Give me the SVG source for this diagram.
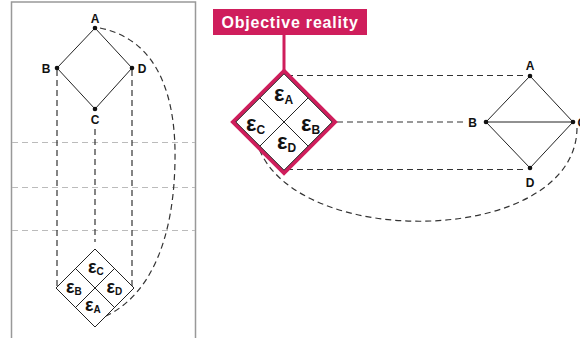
<svg xmlns="http://www.w3.org/2000/svg" width="580" height="338" viewBox="0 0 580 338">
<style>
.lbl{font-family:"Liberation Sans",Arial,sans-serif;font-weight:bold;font-size:12px;fill:#111;text-anchor:middle}
.eps{font-family:"Liberation Sans",Arial,sans-serif;font-weight:bold;fill:#111}
.edge{stroke:#222;stroke-width:1;fill:none}
.dash{stroke:#333;stroke-width:1.2;fill:none;stroke-dasharray:6 4}
.grid{stroke:#bbb;stroke-width:1;fill:none;stroke-dasharray:6 4}
.dot{fill:#111}
</style>
<rect width="580" height="338" fill="#fff"/>
<!-- left panel -->
<g id="panel">
<path d="M11.5 338 V2 H195.5 V338" fill="none" stroke="#999" stroke-width="1.5"/>
<line class="grid" x1="12" y1="142.5" x2="195" y2="142.5"/>
<line class="grid" x1="12" y1="187.5" x2="195" y2="187.5"/>
<line class="grid" x1="12" y1="230.5" x2="195" y2="230.5"/>
</g>
<g id="connectors">
<line class="edge" x1="95" y1="28" x2="57" y2="68"/>
<line class="edge" x1="95" y1="28" x2="132" y2="68"/>
<line class="edge" x1="57" y1="68" x2="95" y2="109"/>
<line class="edge" x1="132" y1="68" x2="95" y2="109"/>
<line class="dash" x1="57" y1="70" x2="57" y2="286"/>
<line class="dash" x1="95" y1="129" x2="95" y2="242"/>
<line class="dash" x1="132" y1="70" x2="132" y2="286"/>
<path class="dash" d="M100 28 C160 40 176 100 175 160 C174 240 150 295 106 316"/>
<line class="edge" x1="530" y1="76" x2="486" y2="122"/>
<line class="edge" x1="530" y1="76" x2="573" y2="122"/>
<line class="edge" x1="486" y1="122" x2="573" y2="122"/>
<line class="edge" x1="486" y1="122" x2="530" y2="168"/>
<line class="edge" x1="573" y1="122" x2="530" y2="168"/>
<line class="dash" x1="287" y1="75.5" x2="524" y2="75.5"/>
<line class="dash" x1="337" y1="122" x2="463" y2="122"/>
<line class="dash" x1="287" y1="169.5" x2="524" y2="169.5"/>
<path class="dash" d="M577 128 C576 246 296 252 258 146"/>
<line x1="284" y1="35" x2="284" y2="71" stroke="#CF1E5C" stroke-width="3"/>
</g>
<!-- left graph nodes -->
<g id="nodeA-left"><circle class="dot" cx="95" cy="28" r="2.3"/><text class="lbl" x="95" y="23">A</text></g>
<g id="nodeB-left"><circle class="dot" cx="57" cy="68" r="2.3"/><text class="lbl" x="46" y="73">B</text></g>
<g id="nodeD-left"><circle class="dot" cx="132" cy="68" r="2.3"/><text class="lbl" x="142" y="73">D</text></g>
<g id="nodeC-left"><circle class="dot" cx="95" cy="109" r="2.3"/><text class="lbl" x="95" y="124">C</text></g>
<!-- left epsilon diamond -->
<g id="diamond-left">
<polygon points="95,249 134,288 95,327 56,288" fill="#fff" stroke="#222" stroke-width="1"/>
<line class="edge" x1="75.5" y1="268.5" x2="114.5" y2="307.5"/>
<line class="edge" x1="114.5" y1="268.5" x2="75.5" y2="307.5"/>
<text class="eps" x="88" y="273" font-size="18">ε<tspan font-size="10" dy="2">C</tspan></text>
<text class="eps" x="66" y="293" font-size="18">ε<tspan font-size="10" dy="2">B</tspan></text>
<text class="eps" x="106.5" y="293" font-size="18">ε<tspan font-size="10" dy="2">D</tspan></text>
<text class="eps" x="85" y="311" font-size="18">ε<tspan font-size="10" dy="2">A</tspan></text>
</g>
<!-- objective reality label -->
<g id="label-objective">
<rect x="213" y="9" width="154" height="26" fill="#CF1E5C"/>
<text x="290" y="28" font-family="'Liberation Sans',Arial,sans-serif" font-weight="bold" font-size="16" letter-spacing="0.8" fill="#fff" text-anchor="middle">Objective reality</text>
</g>
<!-- right epsilon diamond -->
<g id="diamond-right">
<polygon points="284,71 335,122 284,173 233,122" fill="#fff" stroke="#CF1E5C" stroke-width="4" stroke-linejoin="miter"/>
<polygon points="284,73.8 332.2,122 284,170.2 235.8,122" fill="#fff" stroke="#222" stroke-width="1"/>
<line class="edge" x1="259.9" y1="97.9" x2="308.1" y2="146.1"/>
<line class="edge" x1="308.1" y1="97.9" x2="259.9" y2="146.1"/>
<text class="eps" x="274" y="101" font-size="22">ε<tspan font-size="12" dy="3">A</tspan></text>
<text class="eps" x="246" y="131" font-size="22">ε<tspan font-size="12" dy="3">C</tspan></text>
<text class="eps" x="301" y="131" font-size="22">ε<tspan font-size="12" dy="3">B</tspan></text>
<text class="eps" x="277" y="149" font-size="22">ε<tspan font-size="12" dy="3">D</tspan></text>
</g>
<!-- right graph nodes -->
<g id="nodeA-right"><circle class="dot" cx="530" cy="76" r="2.3"/><text class="lbl" x="530" y="70">A</text></g>
<g id="nodeB-right"><circle class="dot" cx="486" cy="122" r="2.3"/><text class="lbl" x="472.5" y="127">B</text></g>
<g id="nodeC-right"><circle class="dot" cx="573" cy="122" r="2.3"/><text class="lbl" x="577.5" y="127" style="text-anchor:start">C</text></g>
<g id="nodeD-right"><circle class="dot" cx="530" cy="168" r="2.3"/><text class="lbl" x="530" y="187">D</text></g>
</svg>
